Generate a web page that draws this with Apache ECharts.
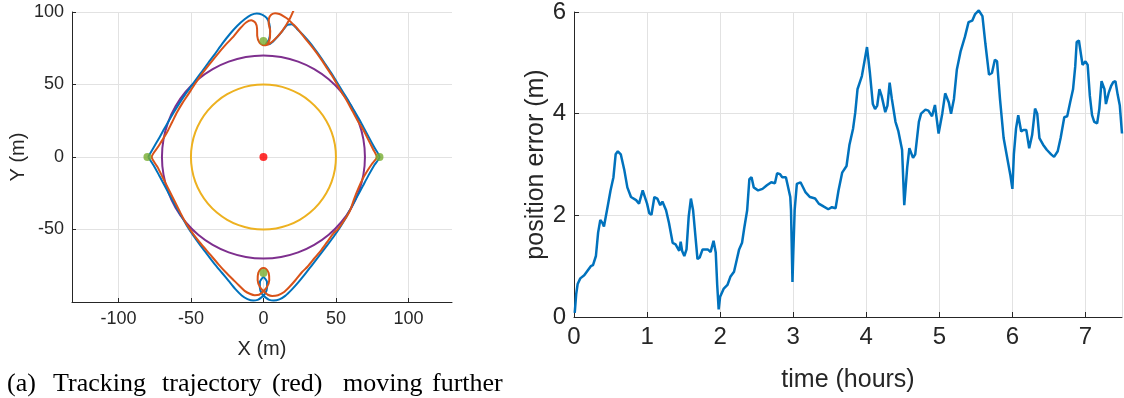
<!DOCTYPE html>
<html>
<head>
<meta charset="utf-8">
<script src="https://cdn.jsdelivr.net/npm/echarts@6/dist/echarts.min.js"></script>
<style>
html,body{margin:0;padding:0;background:#fff;}
#chart{width:1124px;height:398px;}
</style>
</head>
<body>
<div id="chart"></div>
<script>
// ---------- Left panel data (trajectories, X/Y in metres) ----------
const blueTrack = [[-79.5,0],[-76,6],[-72.5,12],[-69,18.4],[-65.5,24.5],[-62,30.5],[-58,37],[-54,43],[-50,48.5],[-46,54],[-42,59.5],[-38,65],[-33.5,71],[-28.5,78],[-23,85],[-18,90.5],[-13,95],[-8.5,98],[-4.6,99],[-1,98.2],[2.2,96],[4,92],[4.6,86.5],[3.8,81],[1.8,78],[3.8,77.8],[6.5,79.5],[9.5,82.7],[13,86.8],[16.5,91.2],[19.5,91.5],[23,88.5],[27,84.5],[31,80],[35,75],[39,69.5],[43,63.5],[47,57.5],[51,51],[55,44.5],[59,38],[62.5,32],[66,26],[69.5,19.5],[73,13],[76.5,6.5],[80,0],[76.5,-5.5],[72.5,-12.5],[68.5,-20],[64.5,-27.5],[60.5,-35],[56.5,-42.5],[52.5,-49],[48,-55.5],[43.5,-61.5],[38.5,-68],[33.5,-74.5],[28.5,-81],[24,-86.5],[19.5,-91.5],[15,-95.8],[11,-98.2],[7,-99],[4,-98.5],[1.6,-97],[-1,-94.5],[-2.5,-90],[-2.4,-86],[0,-83],[2.4,-86],[2.5,-90],[1,-94.5],[-1.6,-97],[-4,-98.5],[-7,-99],[-11,-98],[-15,-95.5],[-19.5,-91],[-24,-85.5],[-28.5,-80],[-33.5,-74],[-38.5,-67.5],[-43.5,-61],[-48.5,-54],[-53,-47],[-57,-40],[-61,-33],[-64.5,-26.5],[-68,-20],[-71.5,-13.5],[-75,-7],[-79.5,0]];
const orangeTrack = [[0.5,77],[3,78.5],[4.5,82.5],[4.6,87.5],[3.6,92],[3.8,95.5],[5.5,98.2],[8,99.2],[11,98.6],[14,97],[17,95],[20,92],[23,89],[27,84],[31,79],[35,74],[39,68.5],[43,62.5],[47,56.5],[50.5,50.5],[54,44.5],[58,38],[61.5,31.5],[65,25],[69,18.4],[72.5,11.5],[75.5,5.5],[78.2,0],[75,-4.5],[72,-9],[69,-14],[65.5,-21.5],[62.5,-29],[59.8,-36.7],[55.5,-44],[51.5,-49.5],[48,-53],[44,-58.5],[40,-64],[35,-70],[30.5,-75.5],[26.5,-79.5],[22,-85],[18,-89.5],[14,-93.3],[10,-95.3],[6,-95.8],[3,-95],[1,-93.3],[-2.2,-90],[-4,-85],[-3.6,-80],[-1.8,-77.3],[0,-76.6],[1.8,-77.3],[3.6,-80],[4,-85],[2.2,-90],[-1,-93.5],[-3,-95],[-6,-95.3],[-9,-94.5],[-13,-92.3],[-17,-88.5],[-21,-84.5],[-26,-79.5],[-31,-74],[-37,-67],[-43,-60],[-48.5,-53],[-53.5,-45.5],[-57.5,-38],[-61.5,-30],[-65.5,-22],[-69.5,-14],[-73,-7],[-77,0],[-73,6.5],[-69.5,12],[-66.5,17],[-63,24],[-59.5,31],[-56,37],[-52,43],[-47.5,50],[-43,56.5],[-38,63],[-32,70.5],[-26,77.5],[-20.7,83],[-16,88.8],[-12,92.8],[-8.5,94.3],[-5.5,92.5],[-4.4,88.5],[-4.3,83.5],[-2.8,79],[0,77],[3,77.6],[6,79.5],[9.5,82.8],[13,87],[16,91.5],[18.5,96],[20.5,100.5],[22.5,105]];
const circleRadii = [50, 70];           // yellow, purple circles (m)
const circleAngles = [0,10,20,30,40,50,60,70,80,90,100,110,120,130,140,150,160,170,180,190,200,210,220,230,240,250,260,270,280,290,300,310,320,330,340,350,360];
const targets = [[-80,0],[80,0],[0,80],[0,-80]];
const centerPoint = [[0,0]];
const xTickValues = [-100,-50,0,50,100];

// ---------- Right panel data ----------
const timeHours = [0.01,0.03,0.05,0.086,0.14,0.19,0.23,0.26,0.3,0.33,0.36,0.39,0.41,0.46,0.5,0.54,0.57,0.6,0.62,0.64,0.69,0.73,0.78,0.85,0.89,0.94,0.96,1.0,1.03,1.06,1.1,1.14,1.18,1.21,1.26,1.3,1.35,1.39,1.44,1.46,1.48,1.51,1.54,1.57,1.6,1.63,1.67,1.69,1.72,1.76,1.83,1.87,1.91,1.94,1.96,1.98,2.0,2.05,2.1,2.14,2.19,2.23,2.26,2.3,2.33,2.37,2.4,2.43,2.46,2.52,2.58,2.64,2.7,2.75,2.78,2.82,2.85,2.9,2.92,2.96,2.97,2.99,3.0,3.02,3.05,3.1,3.17,3.23,3.3,3.35,3.42,3.48,3.53,3.58,3.62,3.67,3.73,3.77,3.82,3.85,3.88,3.94,4.01,4.05,4.09,4.12,4.15,4.18,4.21,4.26,4.29,4.32,4.35,4.4,4.44,4.49,4.52,4.56,4.59,4.64,4.67,4.72,4.75,4.81,4.85,4.9,4.94,4.99,5.04,5.08,5.13,5.16,5.2,5.24,5.29,5.35,5.4,5.45,5.49,5.54,5.59,5.63,5.68,5.72,5.76,5.79,5.83,5.88,5.92,5.97,6.0,6.02,6.05,6.08,6.12,6.15,6.19,6.23,6.27,6.31,6.34,6.37,6.42,6.47,6.53,6.57,6.62,6.66,6.71,6.75,6.79,6.83,6.86,6.88,6.91,6.94,6.96,7.0,7.03,7.06,7.09,7.12,7.16,7.19,7.22,7.26,7.28,7.32,7.35,7.38,7.41,7.44,7.47,7.5];
const positionError = [0.08,0.45,0.65,0.76,0.82,0.92,1.0,1.02,1.2,1.66,1.91,1.85,1.78,2.17,2.49,2.75,3.2,3.26,3.27,3.2,2.88,2.55,2.36,2.3,2.23,2.49,2.5,2.23,2.04,2.01,2.36,2.33,2.2,2.27,2.1,1.85,1.46,1.43,1.3,1.48,1.3,1.2,1.33,1.98,2.33,2.1,1.46,1.14,1.17,1.33,1.33,1.28,1.5,1.27,0.63,0.15,0.4,0.56,0.63,0.79,0.89,1.14,1.33,1.46,1.75,2.1,2.71,2.75,2.55,2.49,2.52,2.59,2.65,2.63,2.83,2.81,2.75,2.75,2.62,2.36,2.1,0.69,1.2,2.1,2.62,2.65,2.45,2.36,2.33,2.23,2.17,2.12,2.16,2.14,2.49,2.84,2.97,3.39,3.71,4.03,4.48,4.74,5.31,4.8,4.19,4.09,4.16,4.48,4.35,4.03,4.16,4.61,4.29,3.84,3.65,3.29,2.2,2.94,3.32,3.13,3.2,3.84,4.0,4.08,4.06,3.95,4.17,3.61,4.0,4.4,4.22,4.0,4.29,4.87,5.22,5.51,5.8,5.83,5.96,6.03,5.92,5.38,4.77,4.8,5.06,5.03,4.29,3.52,3.2,2.81,2.52,3.2,3.71,3.97,3.65,3.68,3.68,3.32,3.58,4.1,4.0,3.52,3.39,3.29,3.2,3.15,3.26,3.52,3.93,3.95,4.22,4.48,4.93,5.41,5.44,5.15,4.96,5.03,4.96,4.35,3.97,3.84,3.81,4.1,4.64,4.48,4.19,4.42,4.54,4.62,4.64,4.38,4.16,3.61];

// ---------- Build chart ----------
const AX = '#262626', GRID = '#e2e2e2';
const SANS = '"Liberation Sans", Arial, sans-serif';
const SERIF = '26px "Liberation Serif", "Times New Roman", serif';
const circleColors = ['#EDB120', '#7E2F8E'];

const circleSeries = circleRadii.map((r, i) => ({
  type: 'line', coordinateSystem: 'polar', polarIndex: 0,
  data: circleAngles.map(a => [r, a]),
  smooth: true, symbol: 'none', silent: true,
  lineStyle: { color: circleColors[i], width: 2 }, z: 2
}));

const captionWords = [['(a)', 7], ['Tracking', 53], ['trajectory', 162], ['(red)', 272], ['moving', 343], ['further', 432]];

const chart = echarts.init(document.getElementById('chart'), null, { renderer: 'canvas' });
const option = {
  animation: false,
  backgroundColor: '#ffffff',
  textStyle: { fontFamily: SANS },
  grid: [
    { left: 72, top: 12, width: 380, height: 290 },
    { left: 574, top: 11, width: 548, height: 312 }
  ],
  polar: [{ center: [263.45, 157], radius: 145 }],
  angleAxis: [{ type: 'value', min: 0, max: 360, show: false, startAngle: 0 }],
  radiusAxis: [{ type: 'value', min: 0, max: 100, show: false }],
  xAxis: [
    {
      gridIndex: 0, type: 'value', min: -132, max: 130,
      axisLine: { show: true, onZero: false, lineStyle: { color: AX, width: 1 } },
      axisTick: { show: true, inside: true, length: 4, customValues: xTickValues, lineStyle: { color: AX } },
      axisLabel: { customValues: xTickValues, fontSize: 18, color: AX, margin: 8, fontFamily: SANS },
      splitLine: { show: true, lineStyle: { color: GRID, width: 1 } },
      name: 'X (m)', nameLocation: 'middle', nameGap: 37,
      nameTextStyle: { fontSize: 20, color: AX, fontFamily: SANS }
    },
    {
      gridIndex: 1, type: 'value', min: 0, max: 7.5, interval: 1,
      axisLine: { show: true, onZero: false, lineStyle: { color: AX, width: 1 } },
      axisTick: { show: true, inside: true, length: 5, lineStyle: { color: AX } },
      axisLabel: { fontSize: 24, color: AX, margin: 8, showMaxLabel: false, fontFamily: SANS },
      splitLine: { show: true, lineStyle: { color: GRID, width: 1 } },
      name: 'time (hours)', nameLocation: 'middle', nameGap: 51,
      nameTextStyle: { fontSize: 25, color: AX, fontFamily: SANS }
    }
  ],
  yAxis: [
    {
      gridIndex: 0, type: 'value', min: -100, max: 100, interval: 50,
      axisLine: { show: true, onZero: false, lineStyle: { color: AX, width: 1 } },
      axisTick: { show: true, inside: true, length: 4, lineStyle: { color: AX } },
      axisLabel: { fontSize: 18, color: AX, margin: 8, showMinLabel: false, fontFamily: SANS },
      splitLine: { show: true, lineStyle: { color: GRID, width: 1 } },
      name: 'Y (m)', nameLocation: 'middle', nameGap: 44, nameRotate: 90,
      nameTextStyle: { fontSize: 20, color: AX, fontFamily: SANS }
    },
    {
      gridIndex: 1, type: 'value', min: 0, max: 6, interval: 2,
      axisLine: { show: true, onZero: false, lineStyle: { color: AX, width: 1 } },
      axisTick: { show: true, inside: true, length: 5, lineStyle: { color: AX } },
      axisLabel: { fontSize: 24, color: AX, margin: 8, fontFamily: SANS },
      splitLine: { show: true, lineStyle: { color: GRID, width: 1 } },
      name: 'position error (m)', nameLocation: 'middle', nameGap: 22, nameRotate: 90,
      nameTextStyle: { fontSize: 25, color: AX, fontFamily: SANS }
    }
  ],
  series: [
    ...circleSeries,
    {
      type: 'line', xAxisIndex: 0, yAxisIndex: 0, data: blueTrack,
      smooth: 0.25, symbol: 'none', clip: true, z: 3,
      lineStyle: { color: '#0072BD', width: 2 }
    },
    {
      type: 'line', xAxisIndex: 0, yAxisIndex: 0, data: orangeTrack,
      smooth: 0.25, symbol: 'none', clip: true, z: 4,
      lineStyle: { color: '#D95319', width: 2 }
    },
    {
      type: 'scatter', xAxisIndex: 0, yAxisIndex: 0, data: targets,
      symbol: 'circle', symbolSize: 8, z: 5,
      itemStyle: { color: '#77AC30' }
    },
    {
      type: 'scatter', xAxisIndex: 0, yAxisIndex: 0, data: centerPoint,
      symbol: 'circle', symbolSize: 8, z: 5,
      itemStyle: { color: '#FF0000' }
    },
    {
      type: 'line', xAxisIndex: 1, yAxisIndex: 1,
      data: timeHours.map((t, i) => [t, positionError[i]]),
      symbol: 'none', clip: false, z: 3,
      lineStyle: { color: '#0072BD', width: 2.5 }
    }
  ],
  graphic: captionWords.map(([w, x]) => ({
    type: 'text', left: x, top: 371, style: { text: w, font: SERIF, fill: '#000' }
  }))
};
chart.setOption(option);
</script>
</body>
</html>
